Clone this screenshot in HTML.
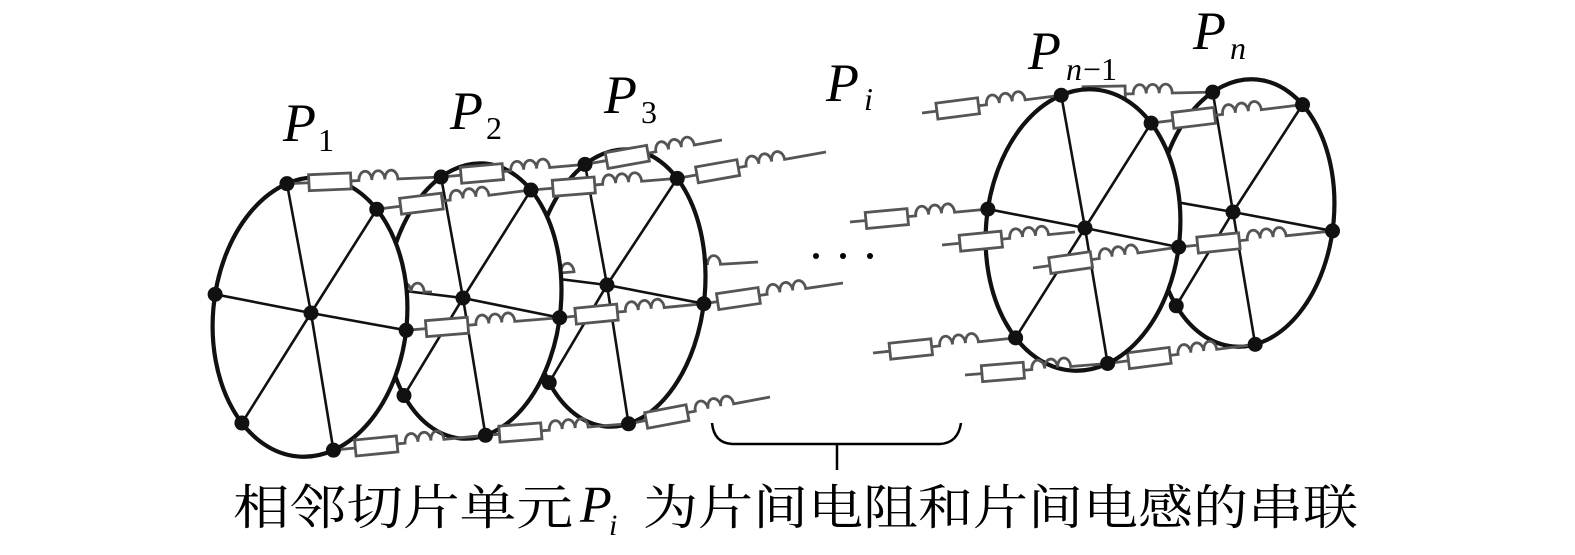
<!DOCTYPE html>
<html><head><meta charset="utf-8"><style>
html,body{margin:0;padding:0;background:#fff;}
svg{display:block;}
.lab{font-family:"Liberation Serif",serif;font-style:italic;fill:#000;}
.sub{font-family:"Liberation Serif",serif;fill:#000;}
</style></head><body>
<svg id="s" width="1575" height="555" viewBox="0 0 1575 555" xmlns="http://www.w3.org/2000/svg">
<g id="L"></g>
<g id="bracket" fill="none" stroke="#000" stroke-width="2.5">
<path d="M712 423 Q714 443 732 444 H940 Q958 443 961 423"/>
<path d="M837 444 V470"/>
</g>
<g fill="#000">
<circle cx="816" cy="256" r="3"/><circle cx="843" cy="256" r="3"/><circle cx="870" cy="256" r="3"/>
</g>
<text class="lab" x="283" y="141" font-size="54">P</text><text class="sub" x="318" y="151" font-size="32">1</text>
<text class="lab" x="450" y="129" font-size="54">P</text><text class="sub" x="486" y="139" font-size="32">2</text>
<text class="lab" x="604" y="113" font-size="54">P</text><text class="sub" x="641" y="123" font-size="32">3</text>
<text class="lab" x="826" y="101" font-size="54">P</text><text class="lab" x="864" y="110" font-size="32">i</text>
<text class="lab" x="1028" y="69" font-size="54">P</text><text class="lab" x="1066" y="80" font-size="32">n</text><text class="sub" x="1083" y="80" font-size="32">−1</text>
<text class="lab" x="1193" y="49" font-size="54">P</text><text class="lab" x="1230" y="59" font-size="32">n</text>
<text x="233" y="524" font-size="48" font-family="'Liberation Serif','Noto Serif CJK SC',serif" fill="#000" textLength="340" lengthAdjust="spacingAndGlyphs">相邻切片单元</text>
<text class="lab" x="580" y="522" font-size="52">P</text><text class="lab" x="609" y="535" font-size="30">i</text>
<text x="643" y="524" font-size="48" font-family="'Liberation Serif','Noto Serif CJK SC',serif" fill="#000" textLength="715" lengthAdjust="spacingAndGlyphs">为片间电阻和片间电感的串联</text>
</svg>
<script>
var NS="http://www.w3.org/2000/svg",G=document.getElementById("L");
function el(t,a,p){var e=document.createElementNS(NS,t);for(var k in a)e.setAttribute(k,a[k]);(p||G).appendChild(e);return e;}
// project point onto rotated ellipse along ray from center
function proj(p,E){var cx=E[0],cy=E[1],rx=E[2],ry=E[3],r=E[4]*Math.PI/180;
 var dx=p[0]-cx,dy=p[1]-cy,c=Math.cos(r),s=Math.sin(r);
 var lx=dx*c+dy*s,ly=-dx*s+dy*c,ang=Math.atan2(ly/ry,lx/rx);
 var ex=rx*Math.cos(ang),ey=ry*Math.sin(ang);
 return [cx+ex*c-ey*s,cy+ex*s+ey*c];}
// n: [top,TR,R,B,BL,L,C]
function ring(n,E){
 el("ellipse",{cx:E[0],cy:E[1],rx:E[2],ry:E[3],transform:"rotate("+E[4]+" "+E[0]+" "+E[1]+")",fill:"#fff",stroke:"#111","stroke-width":4.2});
 var out=[];for(var i=0;i<6;i++)out.push(proj(n[i],E));out.push(n[6]);
 var c=n[6];
 [[0,3],[1,4],[5,2]].forEach(function(s){var a=out[s[0]],b=out[s[1]];
  el("path",{d:"M"+a[0]+" "+a[1]+" L"+c[0]+" "+c[1]+" L"+b[0]+" "+b[1],fill:"none",stroke:"#111","stroke-width":2.6});});
 return out;
}
function dots(list){list.forEach(function(p){el("circle",{cx:p[0],cy:p[1],r:7.5,fill:"#111"});});}
function ch(x1,y1,x2,y2,r0){
 var dx=x2-x1,dy=y2-y1,L=Math.sqrt(dx*dx+dy*dy),a=Math.atan2(dy,dx)*180/Math.PI;
 var g=el("g",{transform:"translate("+x1+","+y1+") rotate("+a+")"});
 var e=r0+42,s=e+8,d="M0 0 H"+r0+" M"+e+" 0 H"+s;
 d+=" a6.5 9 0 0 1 13 0 a6.5 9 0 0 1 13 0 a6.5 9 0 0 1 13 0 H"+L;
 el("path",{d:d,fill:"none",stroke:"#555","stroke-width":2.8},g);
 el("rect",{x:r0,y:-8,width:42,height:16,fill:"#fff",stroke:"#555","stroke-width":2.8},g);
}
function C(a,b,r0){ch(a[0],a[1],b[0],b[1],r0);}
var EPn=[1245,213,89,134,5],EPm=[1083,230,97,141,5],EP3=[618,288,87,139,5],EP2=[473,301,88,138,5],EP1=[310,317,97,140,5];
var Pn0=[[1210,82],[1305,100],[1328,230],[1255,342],[1162,325],[1165,200],[1233,212]];
var Pm0=[[1062,100],[1155,117],[1178,247],[1107,360],[1013,342],[992,210],[1085,228]];
var P30=[[583,157],[678,177],[700,303],[628,417],[538,398],[535,276],[607,285]];
var P20=[[439,169],[532,188],[556,317],[485,430],[392,412],[388,289],[463,298]];
var P10=[[287,184],[380,204],[404,330],[332,442],[240,426],[218,295],[311,313]];
var Pn=Pn0.map(function(p,i){return i<6?proj(p,EPn):p;});
var Pm=Pm0.map(function(p,i){return i<6?proj(p,EPm):p;});
var P3=P30.map(function(p,i){return i<6?proj(p,EP3):p;});
var P2=P20.map(function(p,i){return i<6?proj(p,EP2):p;});
var P1=P10.map(function(p,i){return i<6?proj(p,EP1):p;});
// ---- right group ----
ring(Pn0,EPn);
C(Pm[0],Pn[0],22);
C(Pm[1],Pn[1],22);
C(Pm[2],Pn[2],19);
C(Pm[3],Pn[3],21);
ch(1080,215,Pn[5][0],Pn[5][1],-60);
ring(Pm0,EPm);
ch(922,113,Pm[0][0],Pm[0][1],15);
ch(850,222,Pm[5][0],Pm[5][1],16);
ch(942,245,1075,232,18);
ch(1033,268,Pm[2][0],Pm[2][1],17);
ch(873,353,Pm[4][0],Pm[4][1],17);
ch(965,375,Pm[3][0],Pm[3][1],17);
// ---- left group ----
ch(P3[5][0],P3[5][1],758,262,100);
ring(P30,EP3);
ch(P3[0][0],P3[0][1],722,140,22);
ch(P3[1][0],P3[1][1],826,152,20);
ch(P3[2][0],P3[2][1],843,283,14);
ch(P3[3][0],P3[3][1],770,397,18);
C(P2[5],P3[5],100);
ring(P20,EP2);
C(P2[0],P3[0],20);
C(P2[1],P3[1],22);
C(P2[2],P3[2],16);
C(P2[3],P3[3],14);
ch(P1[5][0],P1[5][1],432,292,120);
ring(P10,EP1);
C(P1[0],P2[0],22);
C(P1[1],P2[1],24);
C(P1[2],P2[2],20);
C(P1[3],P2[3],22);
dots(P1);
dots([P2[0],P2[1],P2[2],P2[3],P2[4],P2[6]]);
dots([P3[0],P3[1],P3[2],P3[3],P3[4],P3[6]]);
dots(Pm);
dots([Pn[0],Pn[1],Pn[2],Pn[3],Pn[4],Pn[6]]);
</script>
</body></html>
